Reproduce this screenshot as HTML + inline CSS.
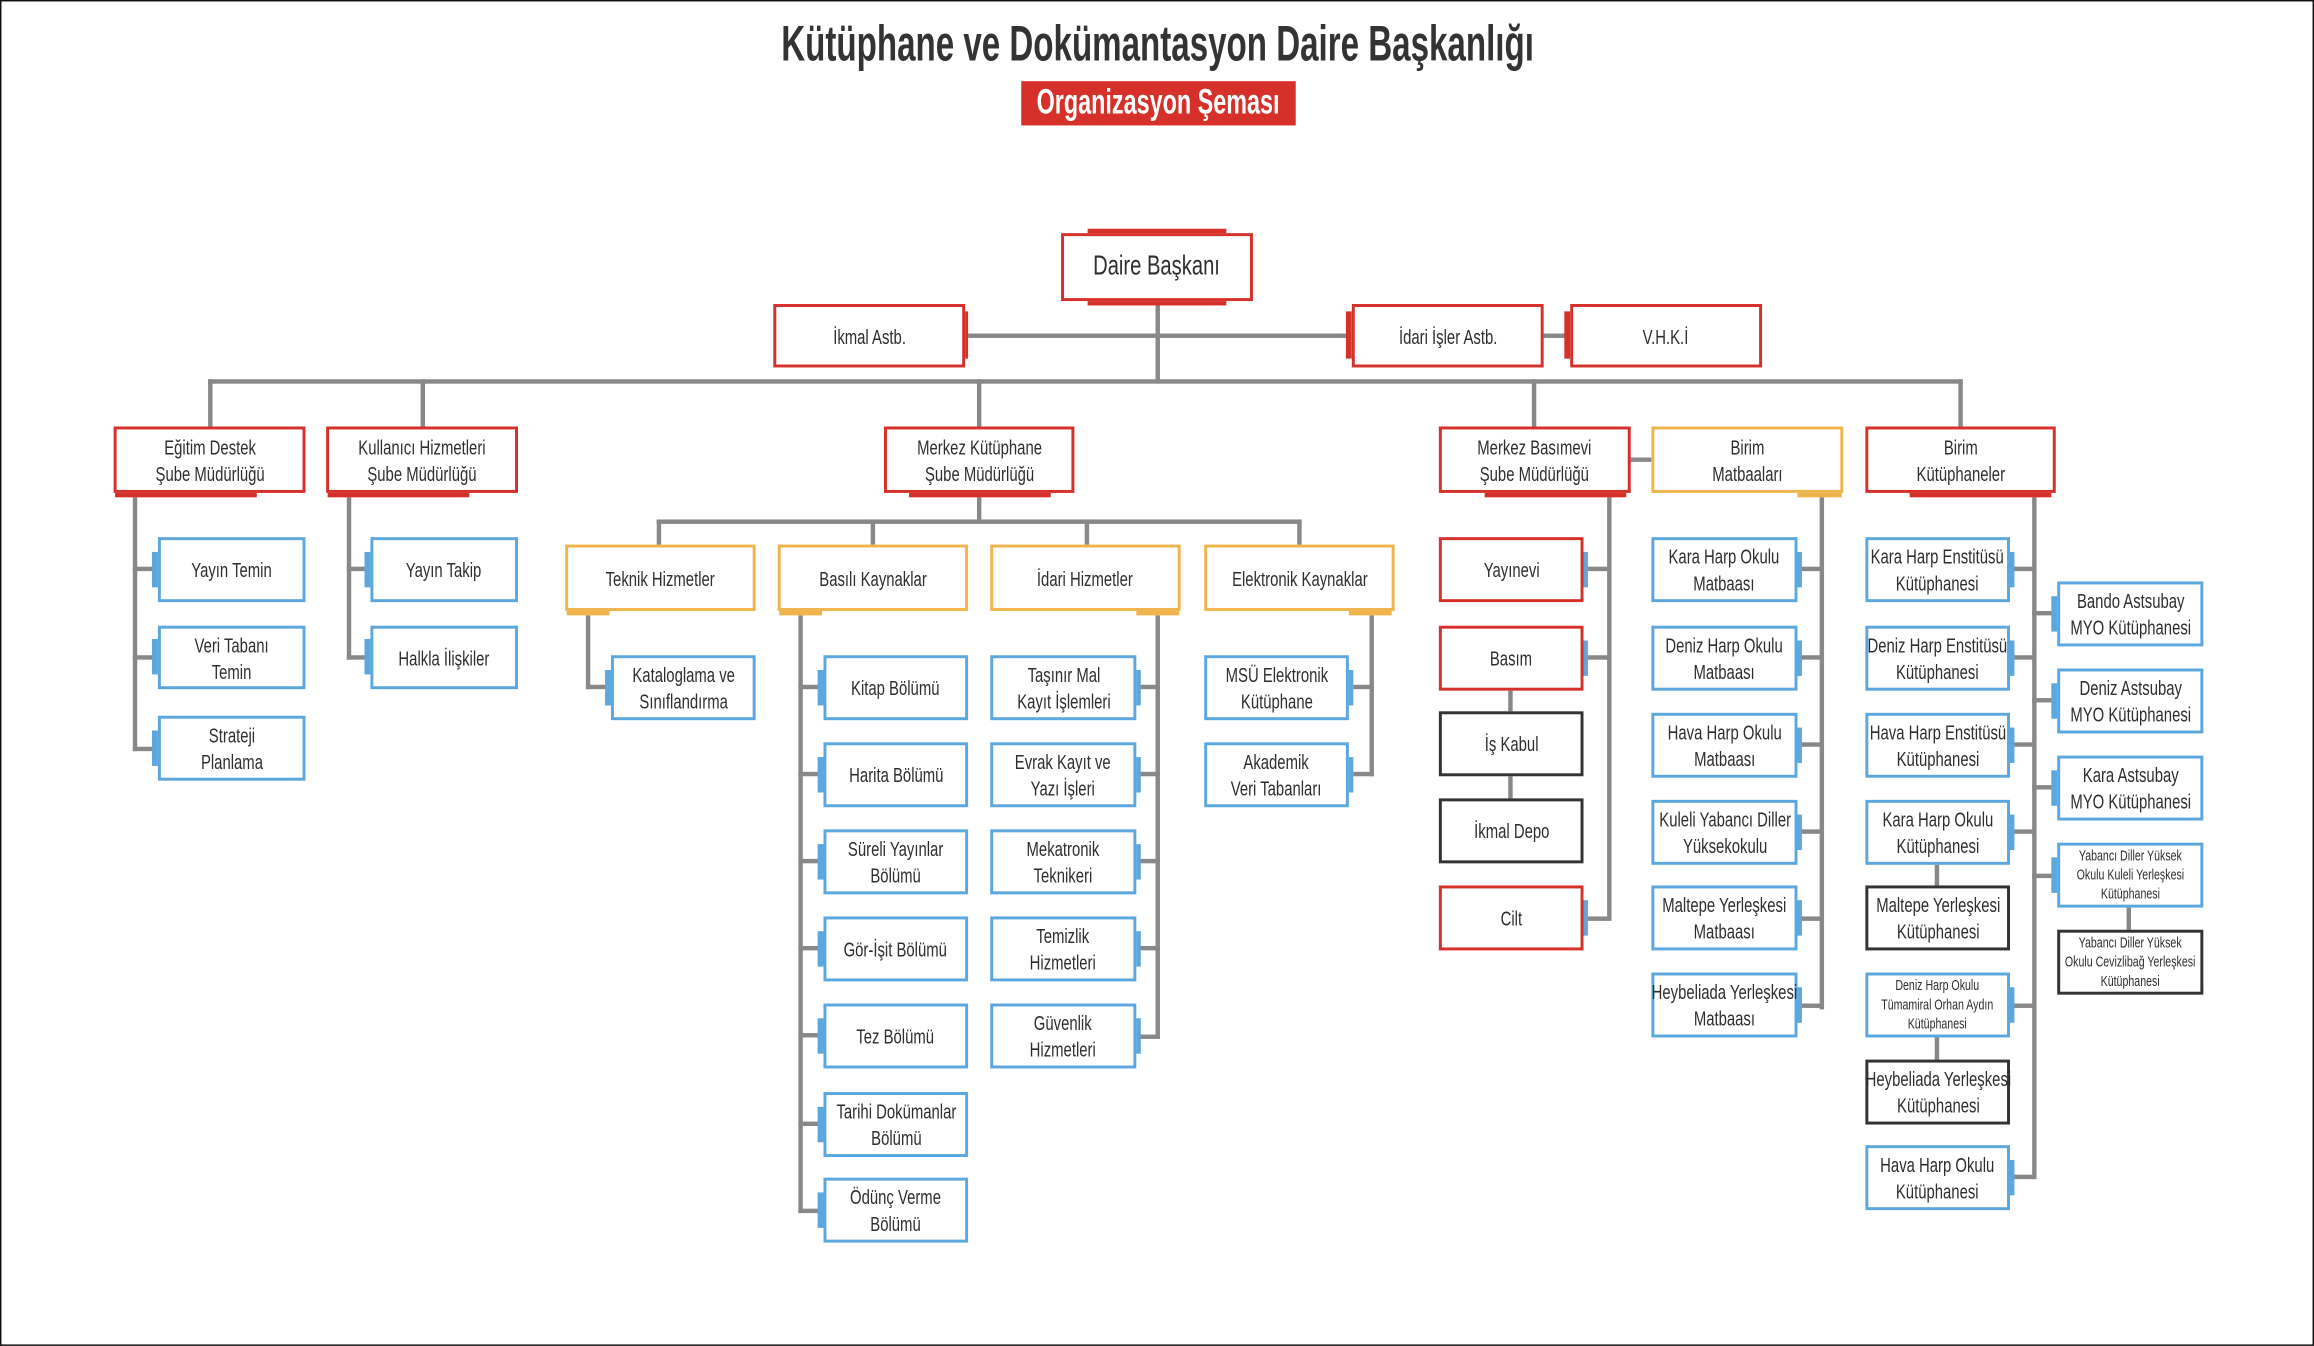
<!DOCTYPE html>
<html><head><meta charset="utf-8"><style>
html,body{margin:0;padding:0;background:#fff}
body{width:2314px;height:1346px;overflow:hidden;position:relative}
#w{position:absolute;left:0;top:0;width:1568px;height:912px;transform:scale(1.47577);transform-origin:0 0;font-family:"Liberation Sans",sans-serif;color:#2e2e2e}
#frame{position:absolute;left:0;top:0;width:1568px;height:912px;box-sizing:border-box;border:1.5px solid #111}
.b{position:absolute;box-sizing:border-box;border:2px solid;background:#fff;display:flex;align-items:center;justify-content:center;text-align:center;font-size:14px;line-height:18px}
.b span{display:inline-block;transform:scaleX(.72);white-space:nowrap}
.s{font-size:10px;line-height:13px}
.r{border-color:#d6302a}.bl{border-color:#5ba7de}.o{border-color:#f0b44c}.k{border-color:#333}
i{position:absolute;background:#888;display:block}
u{position:absolute;display:block}
.R{background:#d6302a}.B{background:#5ba7de}.O{background:#f0b44c}
</style></head><body><div id="w">
<div id="frame"></div>
<div style="position:absolute;left:0;width:1568px;top:10px;text-align:center;font-size:34px;font-weight:bold;line-height:40px;color:#333;white-space:nowrap"><span style="display:inline-block;transform:scaleX(.66)">Kütüphane ve Dokümantasyon Daire Başkanlığı</span></div>
<div style="position:absolute;left:692px;top:55px;width:186px;height:30px;background:#d6302a;color:#fff;text-align:center;font-size:24px;font-weight:bold;line-height:30px;white-space:nowrap"><span style="display:inline-block;transform:scaleX(.66);margin:0 -40px">Organizasyon Şeması</span></div>

<!-- lines -->
<i style="left:783px;top:203px;width:3px;height:56px"></i>
<i style="left:656px;top:226px;width:260px;height:3px"></i>
<i style="left:1045px;top:226px;width:19px;height:3px"></i>
<i style="left:141px;top:257px;width:1189px;height:3px"></i>
<i style="left:141px;top:257px;width:3px;height:32px"></i>
<i style="left:285px;top:257px;width:3px;height:32px"></i>
<i style="left:662px;top:257px;width:3px;height:32px"></i>
<i style="left:1038px;top:257px;width:3px;height:32px"></i>
<i style="left:1327px;top:257px;width:3px;height:32px"></i>
<i style="left:1104px;top:310px;width:15px;height:3px"></i>
<i style="left:90px;top:337px;width:3px;height:172px"></i>
<i style="left:90px;top:384px;width:14px;height:3px"></i>
<i style="left:90px;top:444px;width:14px;height:3px"></i>
<i style="left:90px;top:506px;width:14px;height:3px"></i>
<i style="left:235px;top:337px;width:3px;height:110px"></i>
<i style="left:235px;top:384px;width:14px;height:3px"></i>
<i style="left:235px;top:444px;width:14px;height:3px"></i>
<i style="left:662px;top:337px;width:3px;height:17px"></i>
<i style="left:445px;top:352px;width:437px;height:3px"></i>
<i style="left:445px;top:352px;width:3px;height:17px"></i>
<i style="left:590px;top:352px;width:3px;height:17px"></i>
<i style="left:735px;top:352px;width:3px;height:17px"></i>
<i style="left:879px;top:352px;width:3px;height:17px"></i>
<i style="left:397px;top:417px;width:3px;height:50px"></i>
<i style="left:397px;top:464px;width:14px;height:3px"></i>
<i style="left:541px;top:417px;width:3px;height:405px"></i>
<i style="left:541px;top:464px;width:14px;height:3px"></i>
<i style="left:541px;top:523px;width:14px;height:3px"></i>
<i style="left:541px;top:582px;width:14px;height:3px"></i>
<i style="left:541px;top:641px;width:14px;height:3px"></i>
<i style="left:541px;top:700px;width:14px;height:3px"></i>
<i style="left:541px;top:760px;width:14px;height:3px"></i>
<i style="left:541px;top:819px;width:14px;height:3px"></i>
<i style="left:783px;top:417px;width:3px;height:287px"></i>
<i style="left:772px;top:464px;width:14px;height:3px"></i>
<i style="left:772px;top:523px;width:14px;height:3px"></i>
<i style="left:772px;top:582px;width:14px;height:3px"></i>
<i style="left:772px;top:641px;width:14px;height:3px"></i>
<i style="left:772px;top:701px;width:14px;height:3px"></i>
<i style="left:928px;top:417px;width:3px;height:109px"></i>
<i style="left:917px;top:464px;width:14px;height:3px"></i>
<i style="left:917px;top:523px;width:14px;height:3px"></i>
<i style="left:1089px;top:337px;width:3px;height:287px"></i>
<i style="left:1076px;top:384px;width:14px;height:3px"></i>
<i style="left:1076px;top:444px;width:14px;height:3px"></i>
<i style="left:1076px;top:621px;width:14px;height:3px"></i>
<i style="left:1022px;top:466px;width:3px;height:17px"></i>
<i style="left:1022px;top:524px;width:3px;height:18px"></i>
<i style="left:1233px;top:337px;width:3px;height:347px"></i>
<i style="left:1220px;top:384px;width:14px;height:3px"></i>
<i style="left:1220px;top:444px;width:14px;height:3px"></i>
<i style="left:1220px;top:503px;width:14px;height:3px"></i>
<i style="left:1220px;top:562px;width:14px;height:3px"></i>
<i style="left:1220px;top:621px;width:14px;height:3px"></i>
<i style="left:1220px;top:680px;width:14px;height:3px"></i>
<i style="left:1377px;top:337px;width:3px;height:462px"></i>
<i style="left:1364px;top:384px;width:14px;height:3px"></i>
<i style="left:1364px;top:444px;width:14px;height:3px"></i>
<i style="left:1364px;top:503px;width:14px;height:3px"></i>
<i style="left:1364px;top:562px;width:14px;height:3px"></i>
<i style="left:1364px;top:680px;width:14px;height:3px"></i>
<i style="left:1364px;top:796px;width:14px;height:3px"></i>
<i style="left:1377px;top:414px;width:15px;height:3px"></i>
<i style="left:1377px;top:473px;width:15px;height:3px"></i>
<i style="left:1377px;top:532px;width:15px;height:3px"></i>
<i style="left:1377px;top:592px;width:15px;height:3px"></i>
<i style="left:1311px;top:584px;width:3px;height:17px"></i>
<i style="left:1311px;top:701px;width:3px;height:18px"></i>
<i style="left:1441px;top:613px;width:3px;height:18px"></i>

<u class="R" style="left:737px;top:155px;width:94px;height:4px"></u>
<u class="R" style="left:737px;top:202px;width:94px;height:5px"></u>
<div class="b r" style="left:719px;top:158px;width:130px;height:46px;font-size:19px"><span>Daire Başkanı</span></div>
<u class="R" style="left:652px;top:211px;width:4px;height:32px"></u>
<div class="b r" style="left:524px;top:206px;width:130px;height:43px"><span>İkmal Astb.</span></div>
<u class="R" style="left:912px;top:211px;width:4px;height:32px"></u>
<div class="b r" style="left:916px;top:206px;width:130px;height:43px"><span>İdari İşler Astb.</span></div>
<u class="R" style="left:1060px;top:211px;width:4px;height:32px"></u>
<div class="b r" style="left:1064px;top:206px;width:130px;height:43px"><span>V.H.K.İ</span></div>

<u class="R" style="left:78px;top:332px;width:96px;height:5px"></u>
<div class="b r" style="left:77px;top:289px;width:130px;height:45px"><span>Eğitim Destek<br>Şube Müdürlüğü</span></div>
<u class="R" style="left:222px;top:332px;width:96px;height:5px"></u>
<div class="b r" style="left:221px;top:289px;width:130px;height:45px"><span>Kullanıcı Hizmetleri<br>Şube Müdürlüğü</span></div>
<u class="R" style="left:616px;top:332px;width:96px;height:5px"></u>
<div class="b r" style="left:599px;top:289px;width:129px;height:45px"><span>Merkez Kütüphane<br>Şube Müdürlüğü</span></div>
<u class="R" style="left:1006px;top:332px;width:96px;height:5px"></u>
<div class="b r" style="left:975px;top:289px;width:130px;height:45px"><span>Merkez Basımevi<br>Şube Müdürlüğü</span></div>
<u class="O" style="left:1218px;top:332px;width:30px;height:5px"></u>
<div class="b o" style="left:1119px;top:289px;width:130px;height:45px"><span>Birim<br>Matbaaları</span></div>
<u class="R" style="left:1294px;top:332px;width:96px;height:5px"></u>
<div class="b r" style="left:1264px;top:289px;width:129px;height:45px"><span>Birim<br>Kütüphaneler</span></div>

<u class="B" style="left:103px;top:374px;width:5px;height:24px"></u>
<div class="b bl" style="left:107px;top:364px;width:100px;height:44px"><span>Yayın Temin</span></div>
<u class="B" style="left:103px;top:433px;width:5px;height:24px"></u>
<div class="b bl" style="left:107px;top:424px;width:100px;height:43px"><span>Veri Tabanı<br>Temin</span></div>
<u class="B" style="left:103px;top:495px;width:5px;height:24px"></u>
<div class="b bl" style="left:107px;top:485px;width:100px;height:44px"><span>Strateji<br>Planlama</span></div>
<u class="B" style="left:247px;top:374px;width:5px;height:24px"></u>
<div class="b bl" style="left:251px;top:364px;width:100px;height:44px"><span>Yayın Takip</span></div>
<u class="B" style="left:247px;top:433px;width:5px;height:24px"></u>
<div class="b bl" style="left:251px;top:424px;width:100px;height:43px"><span>Halkla İlişkiler</span></div>

<u class="O" style="left:384px;top:412px;width:29px;height:5px"></u>
<div class="b o" style="left:383px;top:369px;width:129px;height:45px"><span>Teknik Hizmetler</span></div>
<u class="O" style="left:528px;top:412px;width:29px;height:5px"></u>
<div class="b o" style="left:527px;top:369px;width:129px;height:45px"><span>Basılı Kaynaklar</span></div>
<u class="O" style="left:770px;top:412px;width:29px;height:5px"></u>
<div class="b o" style="left:671px;top:369px;width:129px;height:45px"><span>İdari Hizmetler</span></div>
<u class="O" style="left:914px;top:412px;width:29px;height:5px"></u>
<div class="b o" style="left:816px;top:369px;width:129px;height:45px"><span>Elektronik Kaynaklar</span></div>

<u class="B" style="left:410px;top:454px;width:5px;height:24px"></u>
<div class="b bl" style="left:414px;top:444px;width:98px;height:44px"><span>Kataloglama ve<br>Sınıflandırma</span></div>

<u class="B" style="left:554px;top:454px;width:5px;height:24px"></u>
<div class="b bl" style="left:558px;top:444px;width:98px;height:44px"><span>Kitap Bölümü</span></div>
<u class="B" style="left:554px;top:513px;width:5px;height:24px"></u>
<div class="b bl" style="left:558px;top:503px;width:98px;height:44px"><span>Harita Bölümü</span></div>
<u class="B" style="left:554px;top:572px;width:5px;height:24px"></u>
<div class="b bl" style="left:558px;top:562px;width:98px;height:44px"><span>Süreli Yayınlar<br>Bölümü</span></div>
<u class="B" style="left:554px;top:631px;width:5px;height:24px"></u>
<div class="b bl" style="left:558px;top:621px;width:98px;height:44px"><span>Gör-İşit Bölümü</span></div>
<u class="B" style="left:554px;top:690px;width:5px;height:24px"></u>
<div class="b bl" style="left:558px;top:680px;width:98px;height:44px"><span>Tez Bölümü</span></div>
<u class="B" style="left:554px;top:750px;width:5px;height:24px"></u>
<div class="b bl" style="left:558px;top:740px;width:98px;height:44px"><span>Tarihi Dokümanlar<br>Bölümü</span></div>
<u class="B" style="left:554px;top:808px;width:5px;height:24px"></u>
<div class="b bl" style="left:558px;top:798px;width:98px;height:44px"><span>Ödünç Verme<br>Bölümü</span></div>

<u class="B" style="left:768px;top:454px;width:5px;height:24px"></u>
<div class="b bl" style="left:671px;top:444px;width:99px;height:44px"><span>Taşınır Mal<br>Kayıt İşlemleri</span></div>
<u class="B" style="left:768px;top:513px;width:5px;height:24px"></u>
<div class="b bl" style="left:671px;top:503px;width:99px;height:44px"><span>Evrak Kayıt ve<br>Yazı İşleri</span></div>
<u class="B" style="left:768px;top:572px;width:5px;height:24px"></u>
<div class="b bl" style="left:671px;top:562px;width:99px;height:44px"><span>Mekatronik<br>Teknikeri</span></div>
<u class="B" style="left:768px;top:631px;width:5px;height:24px"></u>
<div class="b bl" style="left:671px;top:621px;width:99px;height:44px"><span>Temizlik<br>Hizmetleri</span></div>
<u class="B" style="left:768px;top:690px;width:5px;height:24px"></u>
<div class="b bl" style="left:671px;top:680px;width:99px;height:44px"><span>Güvenlik<br>Hizmetleri</span></div>

<u class="B" style="left:912px;top:454px;width:5px;height:24px"></u>
<div class="b bl" style="left:816px;top:444px;width:98px;height:44px"><span>MSÜ Elektronik<br>Kütüphane</span></div>
<u class="B" style="left:912px;top:513px;width:5px;height:24px"></u>
<div class="b bl" style="left:816px;top:503px;width:98px;height:44px"><span>Akademik<br>Veri Tabanları</span></div>

<u class="B" style="left:1071px;top:374px;width:5px;height:24px"></u>
<div class="b r" style="left:975px;top:364px;width:98px;height:44px"><span>Yayınevi</span></div>
<u class="B" style="left:1071px;top:434px;width:5px;height:24px"></u>
<div class="b r" style="left:975px;top:424px;width:98px;height:44px"><span>Basım</span></div>
<div class="b k" style="left:975px;top:482px;width:98px;height:44px"><span>İş Kabul</span></div>
<div class="b k" style="left:975px;top:541px;width:98px;height:44px"><span>İkmal Depo</span></div>
<u class="B" style="left:1071px;top:610px;width:5px;height:24px"></u>
<div class="b r" style="left:975px;top:600px;width:98px;height:44px"><span>Cilt</span></div>

<u class="B" style="left:1216px;top:374px;width:5px;height:24px"></u>
<div class="b bl" style="left:1119px;top:364px;width:99px;height:44px"><span>Kara Harp Okulu<br>Matbaası</span></div>
<u class="B" style="left:1216px;top:434px;width:5px;height:24px"></u>
<div class="b bl" style="left:1119px;top:424px;width:99px;height:44px"><span>Deniz Harp Okulu<br>Matbaası</span></div>
<u class="B" style="left:1216px;top:493px;width:5px;height:24px"></u>
<div class="b bl" style="left:1119px;top:483px;width:99px;height:44px"><span>Hava Harp Okulu<br>Matbaası</span></div>
<u class="B" style="left:1216px;top:552px;width:5px;height:24px"></u>
<div class="b bl" style="left:1119px;top:542px;width:99px;height:44px"><span>Kuleli Yabancı Diller<br>Yüksekokulu</span></div>
<u class="B" style="left:1216px;top:610px;width:5px;height:24px"></u>
<div class="b bl" style="left:1119px;top:600px;width:99px;height:44px"><span>Maltepe Yerleşkesi<br>Matbaası</span></div>
<u class="B" style="left:1216px;top:669px;width:5px;height:24px"></u>
<div class="b bl" style="left:1119px;top:659px;width:99px;height:44px"><span>Heybeliada Yerleşkesi<br>Matbaası</span></div>

<u class="B" style="left:1360px;top:374px;width:5px;height:24px"></u>
<div class="b bl" style="left:1264px;top:364px;width:98px;height:44px"><span>Kara Harp Enstitüsü<br>Kütüphanesi</span></div>
<u class="B" style="left:1360px;top:434px;width:5px;height:24px"></u>
<div class="b bl" style="left:1264px;top:424px;width:98px;height:44px"><span>Deniz Harp Enstitüsü<br>Kütüphanesi</span></div>
<u class="B" style="left:1360px;top:493px;width:5px;height:24px"></u>
<div class="b bl" style="left:1264px;top:483px;width:98px;height:44px"><span>Hava Harp Enstitüsü<br>Kütüphanesi</span></div>
<u class="B" style="left:1360px;top:552px;width:5px;height:24px"></u>
<div class="b bl" style="left:1264px;top:542px;width:98px;height:44px"><span>Kara Harp Okulu<br>Kütüphanesi</span></div>
<div class="b k" style="left:1264px;top:600px;width:98px;height:44px"><span>Maltepe Yerleşkesi<br>Kütüphanesi</span></div>
<u class="B" style="left:1360px;top:669px;width:5px;height:24px"></u>
<div class="b bl s" style="left:1264px;top:659px;width:98px;height:44px"><span>Deniz Harp Okulu<br>Tümamiral Orhan Aydın<br>Kütüphanesi</span></div>
<div class="b k" style="left:1264px;top:718px;width:98px;height:44px"><span>Heybeliada Yerleşkesi<br>Kütüphanesi</span></div>
<u class="B" style="left:1360px;top:786px;width:5px;height:24px"></u>
<div class="b bl" style="left:1264px;top:776px;width:98px;height:44px"><span>Hava Harp Okulu<br>Kütüphanesi</span></div>

<u class="B" style="left:1390px;top:404px;width:5px;height:24px"></u>
<div class="b bl" style="left:1394px;top:394px;width:99px;height:44px"><span>Bando Astsubay<br>MYO Kütüphanesi</span></div>
<u class="B" style="left:1390px;top:463px;width:5px;height:24px"></u>
<div class="b bl" style="left:1394px;top:453px;width:99px;height:44px"><span>Deniz Astsubay<br>MYO Kütüphanesi</span></div>
<u class="B" style="left:1390px;top:522px;width:5px;height:24px"></u>
<div class="b bl" style="left:1394px;top:512px;width:99px;height:44px"><span>Kara Astsubay<br>MYO Kütüphanesi</span></div>
<u class="B" style="left:1390px;top:581px;width:5px;height:24px"></u>
<div class="b bl s" style="left:1394px;top:571px;width:99px;height:44px"><span>Yabancı Diller Yüksek<br>Okulu Kuleli Yerleşkesi<br>Kütüphanesi</span></div>
<div class="b k s" style="left:1394px;top:630px;width:99px;height:44px"><span>Yabancı Diller Yüksek<br>Okulu Cevizlibağ Yerleşkesi<br>Kütüphanesi</span></div>
</div></body></html>
